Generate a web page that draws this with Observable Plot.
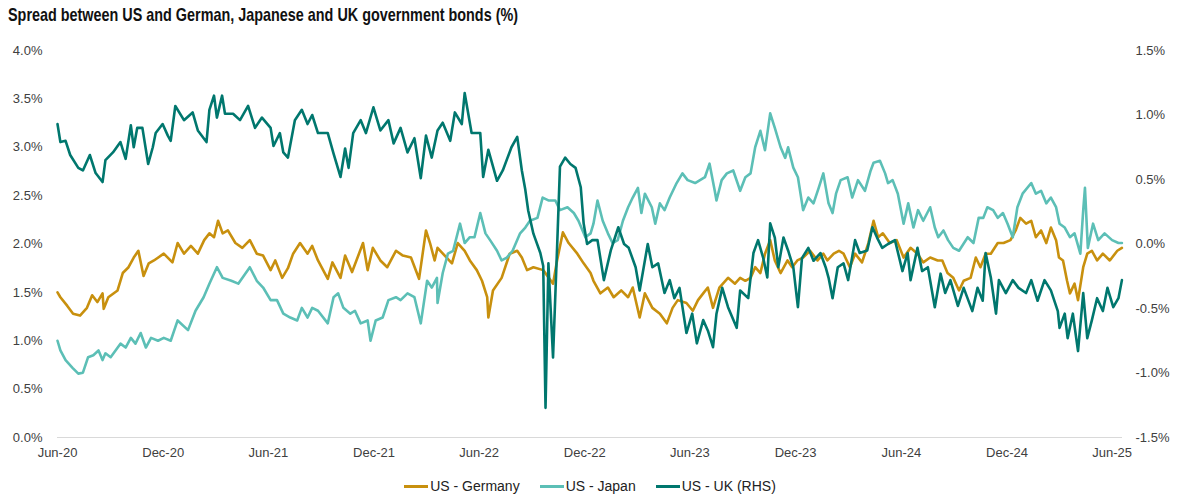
<!DOCTYPE html>
<html>
<head>
<meta charset="utf-8">
<script src="https://cdn.jsdelivr.net/npm/d3@7"></script>
<script src="https://cdn.jsdelivr.net/npm/@observablehq/plot@0.6"></script>
<style>
  html, body { margin: 0; padding: 0; background: #fff; }
  body { position: relative; width: 1180px; height: 497px; overflow: hidden; font-family: "Liberation Sans", Arial, sans-serif; }
  #title { position: absolute; left: 8px; top: 4px; font-family: "Liberation Sans", Arial, sans-serif; font-weight: bold; font-size: 19px; color: #111; white-space: nowrap; transform-origin: 0 0; }
  #chart { position: absolute; left: 0; top: 36px; }
  #legend { position: absolute; left: 0; top: 477px; width: 1180px; display: flex; justify-content: center; gap: 20px; font-size: 14px; color: #222; line-height: 18px; }
  .item { display: flex; align-items: center; }
  .sw { display: inline-block; width: 24px; height: 3px; margin-right: 2px; }
</style>
</head>
<body>
<div id="title">Spread between US and German, Japanese and UK government bonds (%)</div>
<div id="chart"></div>
<div id="legend"></div>
<script>
// ---- Data (x = months since Jun-2020, values in %) ----
const seriesNames = ["US - Germany", "US - Japan", "US - UK (RHS)"];
const seriesColors = ["#C8900E", "#5CBFB6", "#00776E"];
const xTickLabels = ["Jun-20","Dec-20","Jun-21","Dec-21","Jun-22","Dec-22","Jun-23","Dec-23","Jun-24","Dec-24","Jun-25"];
const leftTicks = [0, 0.5, 1, 1.5, 2, 2.5, 3, 3.5, 4];
const rightTicks = [-1.5, -1, -0.5, 0, 0.5, 1, 1.5];

const germanyMonths = [
  0,0.17,0.57,0.91,1.31,1.71,1.99,2.28,2.56,2.62,
  2.90,3.41,3.70,4.04,4.32,4.61,4.89,5.18,5.46,6.03,
  6.54,6.83,7.17,7.57,7.96,8.30,8.59,8.87,9.16,9.44,
  9.73,10.13,10.52,10.98,11.38,11.72,12.12,12.40,12.80,13.14,
  13.42,13.82,14.22,14.51,14.85,15.36,15.64,16.10,16.38,16.78,
  17.35,17.63,17.92,18.37,18.77,19.23,19.62,20.08,20.53,20.93,
  21.22,21.50,21.67,22.47,22.81,23.21,23.49,23.89,24.17,24.46,
  24.52,24.80,25.31,25.77,26.17,26.45,26.74,27.08,27.65,28.21,
  28.44,28.78,29.07,29.58,29.92,30.32,30.49,30.89,31.29,31.63,
  32.03,32.42,32.71,33.16,33.45,33.90,34.30,34.70,35.04,35.32,
  35.84,36.18,36.46,36.75,37.03,37.32,37.71,38.17,38.57,38.85,
  39.14,39.42,39.70,39.99,40.27,40.56,40.84,41.13,41.52,41.81,
  42.09,42.43,42.83,43.23,43.57,43.80,44.14,44.43,44.71,45.11,
  45.39,45.79,46.13,46.42,46.70,46.98,47.38,47.78,48.12,48.52,
  48.92,49.26,49.66,50.06,50.34,50.63,50.97,51.25,51.54,51.93,
  52.22,52.50,52.79,53.07,53.47,53.81,54.21,54.49,54.78,55.06,
  55.35,55.63,55.92,56.20,56.48,56.77,56.94,57.22,57.45,57.62,
  57.91,58.08,58.36,58.59,58.87,59.16,59.50,59.90,60.30,60.58
];
const germanyValues = [
  1.50,1.45,1.36,1.28,1.26,1.34,1.47,1.40,1.49,1.33,
  1.45,1.52,1.70,1.76,1.86,1.93,1.67,1.80,1.83,1.90,
  1.81,2.01,1.90,1.98,1.90,2.04,2.11,2.07,2.24,2.11,
  2.14,2.01,1.96,2.04,1.90,1.88,1.73,1.83,1.65,1.75,
  1.90,2.01,1.90,1.98,1.83,1.64,1.81,1.65,1.88,1.71,
  2.01,1.73,1.96,1.83,1.76,1.93,1.88,1.86,1.64,2.14,
  2.01,1.83,1.96,1.80,2.01,1.93,1.83,1.73,1.62,1.45,
  1.24,1.52,1.65,1.90,1.93,1.86,1.73,1.76,1.73,1.59,
  1.83,2.12,2.01,1.90,1.80,1.70,1.62,1.49,1.55,1.45,
  1.52,1.45,1.55,1.24,1.49,1.34,1.28,1.18,1.34,1.42,
  1.39,1.31,1.42,1.49,1.55,1.34,1.55,1.65,1.59,1.65,
  1.62,1.65,1.76,1.70,1.90,2.04,1.83,1.70,1.83,1.76,
  1.83,1.86,1.93,1.83,1.90,1.83,1.90,1.93,1.90,1.76,
  1.90,1.81,2.01,2.24,2.07,2.11,2.01,2.04,1.86,1.96,
  1.90,1.81,1.86,1.83,1.83,1.70,1.65,1.52,1.62,1.65,
  1.86,1.76,1.90,1.90,2.01,2.01,2.04,2.14,2.27,2.21,
  2.24,2.07,2.14,2.01,2.17,2.04,1.86,1.83,1.62,1.49,
  1.59,1.42,1.76,1.90,1.93,1.83,1.90,1.83,1.93,1.96
];

const japanMonths = [
  0,0.17,0.46,0.85,1.19,1.48,1.76,2.05,2.33,2.56,
  2.73,3.01,3.58,3.87,4.15,4.44,4.72,5.01,5.29,5.69,
  6.03,6.43,6.83,7.39,7.85,8.25,8.59,9.10,9.44,9.95,
  10.30,10.98,11.38,11.72,12.12,12.51,12.86,13.25,13.65,13.94,
  14.22,14.51,14.85,15.36,15.70,15.98,16.27,16.67,16.95,17.24,
  17.63,17.80,18.09,18.49,18.83,19.23,19.51,19.91,20.25,20.65,
  21.05,21.33,21.62,21.67,21.96,22.24,22.53,22.92,23.21,23.49,
  23.78,24.06,24.35,24.63,25.03,25.31,25.60,25.94,26.34,26.62,
  26.91,27.30,27.59,27.93,28.33,28.61,29.01,29.35,29.64,30.03,
  30.32,30.49,30.72,31.00,31.29,31.57,31.85,32.14,32.42,32.71,
  32.99,33.28,33.45,33.85,34.02,34.30,34.58,34.87,35.27,35.61,
  35.89,36.29,36.86,37.14,37.43,37.54,37.83,38.11,38.45,38.85,
  39.14,39.42,39.70,39.99,40.27,40.56,40.84,41.13,41.41,41.58,
  41.87,42.15,42.43,42.72,43.00,43.29,43.57,43.86,44.08,44.25,
  44.54,44.94,45.22,45.56,45.96,46.25,46.42,46.81,47.10,47.27,
  47.55,47.84,48.12,48.41,48.69,48.98,49.26,49.66,49.94,50.11,
  50.40,50.68,50.97,51.25,51.76,52.10,52.39,52.67,52.90,53.19,
  53.47,53.75,54.04,54.32,54.61,54.89,55.35,55.63,55.92,56.20,
  56.48,56.77,57.05,57.34,57.62,57.91,58.19,58.36,58.48,58.65,
  58.93,59.22,59.61,60.01,60.35,60.58
];
const japanValues = [
  1.00,0.90,0.80,0.72,0.66,0.67,0.83,0.85,0.90,0.80,
  0.87,0.83,0.97,0.93,1.03,0.97,1.08,0.93,1.03,1.00,
  1.03,1.00,1.21,1.11,1.31,1.45,1.59,1.76,1.65,1.62,
  1.59,1.76,1.62,1.55,1.42,1.42,1.28,1.24,1.21,1.34,
  1.24,1.34,1.31,1.18,1.45,1.49,1.34,1.28,1.31,1.18,
  1.21,1.00,1.21,1.24,1.42,1.45,1.42,1.49,1.45,1.18,
  1.62,1.55,1.65,1.39,1.70,1.90,1.93,2.21,2.01,2.07,
  2.07,2.32,2.11,2.04,1.93,1.83,1.86,1.93,2.11,2.17,
  2.24,2.27,2.48,2.45,2.45,2.35,2.38,2.32,2.24,2.07,
  2.11,2.21,2.45,2.24,2.11,2.01,2.04,2.24,2.38,2.48,
  2.58,2.32,2.52,2.38,2.21,2.42,2.35,2.48,2.63,2.73,
  2.66,2.63,2.69,2.83,2.55,2.45,2.66,2.73,2.76,2.55,
  2.69,2.73,3.00,3.17,2.97,3.35,3.20,3.00,2.89,3.00,
  2.79,2.69,2.35,2.48,2.42,2.58,2.73,2.42,2.32,2.52,
  2.66,2.69,2.48,2.66,2.55,2.76,2.84,2.86,2.73,2.63,
  2.66,2.52,2.21,2.42,2.17,2.35,2.24,2.38,2.17,2.07,
  2.14,2.04,1.96,1.93,2.07,2.01,2.27,2.27,2.38,2.35,
  2.27,2.32,2.21,2.07,2.38,2.52,2.63,2.52,2.55,2.42,
  2.48,2.38,2.21,2.17,2.07,2.11,1.90,2.35,2.58,1.96,
  2.21,2.04,2.11,2.04,2.01,2.01
];

const ukMonths = [
  0,0.17,0.46,0.74,1.19,1.48,1.88,2.16,2.56,2.73,
  3.13,3.58,3.87,4.15,4.32,4.55,4.83,5.12,5.40,5.57,
  5.97,6.26,6.43,6.71,7.17,7.68,7.96,8.42,8.59,8.87,
  9.10,9.39,9.56,10.01,10.41,10.86,11.26,11.66,12.12,12.29,
  12.68,12.86,13.14,13.54,13.94,14.22,14.51,14.85,15.36,15.70,
  16.10,16.38,16.55,16.84,17.24,17.52,17.97,18.37,18.83,19.11,
  19.51,19.91,20.25,20.65,20.93,21.33,21.67,21.96,22.35,22.64,
  23.04,23.21,23.61,24.06,24.23,24.52,25.03,25.37,25.88,26.17,
  26.45,26.62,26.79,27.08,27.47,27.65,27.76,27.93,28.21,28.44,
  28.61,28.90,29.18,29.47,29.75,29.92,30.15,30.43,30.72,31.06,
  31.46,31.91,32.20,32.48,32.88,33.16,33.62,33.90,34.19,34.58,
  34.87,35.15,35.44,35.84,36.12,36.40,36.75,37.03,37.32,37.54,
  37.88,38.17,38.68,38.85,39.31,39.59,39.87,40.16,40.39,40.56,
  40.84,41.01,41.30,41.58,41.87,42.15,42.38,42.72,43.00,43.40,
  43.69,43.86,44.08,44.37,44.71,45.00,45.39,45.68,46.08,46.36,
  46.64,46.93,47.27,47.67,48.07,48.35,48.52,48.92,49.20,49.54,
  49.94,50.23,50.51,50.80,51.19,51.54,52.05,52.33,52.62,52.79,
  53.07,53.36,53.53,53.92,54.32,54.66,55.06,55.35,55.74,56.09,
  56.48,56.88,57.05,57.34,57.51,57.79,58.08,58.36,58.59,58.87,
  59.16,59.50,59.78,60.07,60.35,60.58
];
const ukValues = [
  0.93,0.79,0.80,0.69,0.59,0.57,0.69,0.55,0.48,0.65,
  0.71,0.79,0.66,0.92,0.75,0.90,0.90,0.62,0.75,0.86,
  0.93,0.84,0.80,1.07,0.96,1.02,0.88,0.79,1.04,1.15,
  0.98,1.15,1.01,1.01,0.96,1.07,0.90,0.98,0.90,0.76,
  0.86,0.71,0.67,0.96,1.04,0.93,1.00,0.86,0.86,0.70,
  0.52,0.74,0.59,0.86,0.96,0.86,1.06,0.88,0.96,0.78,
  0.90,0.71,0.82,0.51,0.84,0.67,0.88,0.94,0.80,1.02,
  0.93,1.17,0.86,0.86,0.52,0.73,0.49,0.57,0.75,0.83,
  0.57,0.42,0.26,0.08,-0.07,-0.17,-1.27,-0.15,-0.88,-0.03,
  0.60,0.67,0.62,0.59,0.44,0.16,0.00,0.03,0.03,-0.28,
  -0.05,0.13,0.00,-0.03,-0.18,-0.36,0.00,-0.18,-0.15,-0.38,
  -0.28,-0.42,-0.34,-0.69,-0.54,-0.77,-0.59,-0.67,-0.80,-0.54,
  -0.34,-0.49,-0.65,-0.36,-0.42,-0.07,0.03,-0.11,-0.26,0.16,
  0.05,-0.18,0.05,-0.05,-0.18,-0.49,-0.11,-0.03,-0.13,-0.07,
  -0.18,-0.26,-0.42,-0.18,-0.15,-0.28,0.03,-0.07,-0.05,0.13,
  0.05,-0.03,0.00,0.03,-0.21,-0.07,-0.28,-0.03,-0.21,-0.18,
  -0.49,-0.23,-0.38,-0.28,-0.48,-0.34,-0.52,-0.34,-0.44,-0.07,
  -0.26,-0.54,-0.28,-0.38,-0.28,-0.34,-0.38,-0.28,-0.44,-0.28,
  -0.36,-0.52,-0.65,-0.54,-0.73,-0.54,-0.83,-0.38,-0.73,-0.59,
  -0.42,-0.52,-0.34,-0.49,-0.42,-0.28
];

// ---- Helpers ----
const start = new Date(2020, 5, 1);
const monthToDate = m => {
  const base = Math.floor(m);
  return new Date(2020, 5 + base, 1 + Math.round((m - base) * 30));
};
// right axis (-1.5..1.5) mapped onto left axis (0..4)
const rightToLeft = u => (u + 1.5) * 4 / 3;
const leftToRight = v => v * 3 / 4 - 1.5;
const pct = v => (Math.round(v * 10) / 10).toFixed(1) + "%";
const parseTick = d3.timeParse("%b-%y");
const xTicks = xTickLabels.map(parseTick);

const build = (months, values, name, map) =>
  months.map((m, i) => ({ date: monthToDate(m), value: map(values[i]), series: name }));

const germany = build(germanyMonths, germanyValues, seriesNames[0], v => v);
const japan = build(japanMonths, japanValues, seriesNames[1], v => v);
const uk = build(ukMonths, ukValues, seriesNames[2], rightToLeft);

const chart = Plot.plot({
  width: 1180,
  height: 430,
  marginTop: 14,
  marginBottom: 29,
  marginLeft: 57,
  marginRight: 58,
  style: { fontFamily: "'Liberation Sans', Arial, sans-serif", fontSize: "13px", color: "#404040", background: "#fff" },
  x: { type: "time", domain: [start, new Date(2025, 5, 19)], label: null },
  y: { domain: [0, 4], label: null },
  marks: [
    Plot.ruleY([0], { stroke: "#d9d9d9", strokeWidth: 1 }),
    Plot.lineY(germany, { x: "date", y: "value", stroke: seriesColors[0], strokeWidth: 2.6 }),
    Plot.lineY(japan, { x: "date", y: "value", stroke: seriesColors[1], strokeWidth: 2.6 }),
    Plot.lineY(uk, { x: "date", y: "value", stroke: seriesColors[2], strokeWidth: 2.6 }),
    Plot.axisY(leftTicks, { anchor: "left", label: null, tickSize: 0, tickPadding: 15, tickFormat: pct, fontSize: 13 }),
    Plot.axisY(rightTicks.map(rightToLeft), { anchor: "right", label: null, tickSize: 0, tickPadding: 13, tickFormat: d => pct(leftToRight(d)), fontSize: 13 }),
    Plot.axisX(xTicks, { anchor: "bottom", label: null, tickSize: 0, tickPadding: 10, tickFormat: d3.timeFormat("%b-%y"), fontSize: 13 })
  ]
});
document.getElementById("chart").appendChild(chart);

// ---- Title: condensed to the reference width ----
const title = document.getElementById("title");
const tw = title.getBoundingClientRect().width;
if (tw > 0) title.style.transform = `scaleX(${510 / tw})`;

// ---- Legend ----
const legend = document.getElementById("legend");
seriesNames.forEach((name, i) => {
  const item = document.createElement("span");
  item.className = "item";
  const sw = document.createElement("span");
  sw.className = "sw";
  sw.style.background = seriesColors[i];
  item.appendChild(sw);
  item.appendChild(document.createTextNode(name));
  legend.appendChild(item);
});
</script>
</body>
</html>
